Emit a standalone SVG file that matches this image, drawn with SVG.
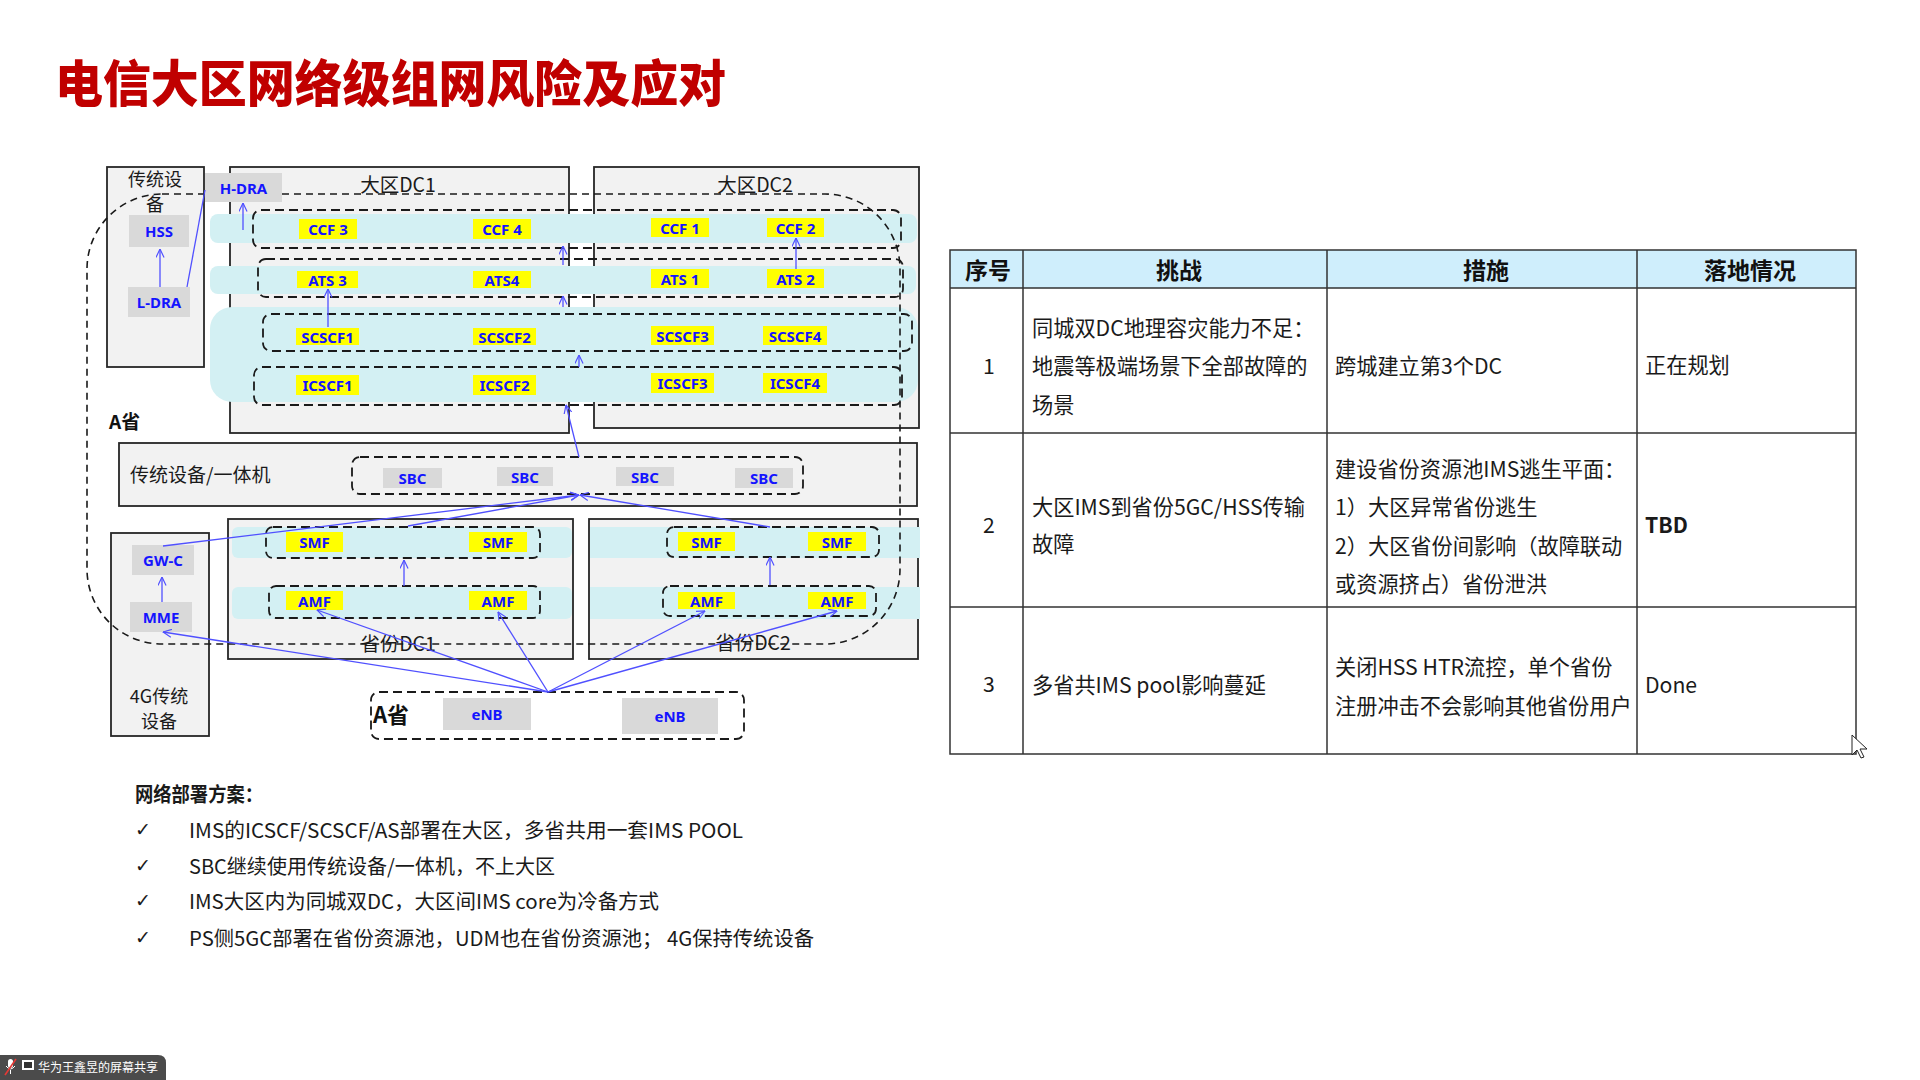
<svg xmlns="http://www.w3.org/2000/svg" width="1920" height="1080" viewBox="0 0 1920 1080">
  <style>
    .box{fill:#f2f2f2;stroke:#262626;stroke-width:1.8}
    .band{fill:#d3f0f3}
    .dash{fill:none;stroke:#1a1a1a;stroke-width:1.8;stroke-dasharray:9 5}
    .region{fill:none;stroke:#1a1a1a;stroke-width:1.6;stroke-dasharray:7 5}
    .ne{fill:#ffff00}
    .gray{fill:#d9d9d9}
    .lbl{font-family:"Noto Sans","Noto Sans CJK SC",sans-serif;font-weight:700;font-size:15px;fill:#1414ff;text-anchor:middle;dominant-baseline:central}
    .cap{font-family:"Noto Sans CJK SC",sans-serif;font-size:19.5px;fill:#1a1a1a;text-anchor:middle;dominant-baseline:central}
    .cap2{font-family:"Noto Sans CJK SC",sans-serif;font-size:18px;fill:#1a1a1a;text-anchor:middle;dominant-baseline:central}
    .capl{font-family:"Noto Sans CJK SC",sans-serif;font-size:19px;fill:#1a1a1a;dominant-baseline:central}
    .prov{font-family:"Noto Sans CJK SC",sans-serif;font-weight:700;fill:#111;dominant-baseline:central}
    .link{stroke:#5050ff;stroke-width:1.3;fill:none;marker-end:url(#arr)}
    .plain{stroke:#5050ff;stroke-width:1.3;fill:none}
    .grid{stroke:#333;stroke-width:1.5;fill:none}
    .th{font-family:"Noto Sans CJK SC",sans-serif;font-weight:700;font-size:23px;fill:#111;text-anchor:middle;dominant-baseline:central}
    .td{font-family:"Noto Sans CJK SC",sans-serif;font-size:21.2px;fill:#1a1a1a;dominant-baseline:central}
    .tdc{font-family:"Noto Sans CJK SC",sans-serif;font-size:21.2px;fill:#1a1a1a;text-anchor:middle;dominant-baseline:central}
    .note{font-family:"Noto Sans CJK SC",sans-serif;font-size:20px;fill:#1a1a1a;dominant-baseline:central}
  </style>
  <defs>
    <marker id="arr" viewBox="0 0 10 10" refX="9.5" refY="5" markerWidth="9" markerHeight="9" markerUnits="userSpaceOnUse" orient="auto">
      <path d="M0,0.5 L9.5,5 L0,9.5" fill="none" stroke="#5050ff" stroke-width="1.3"/>
    </marker>
  </defs>

  <rect width="1920" height="1080" fill="#ffffff"/>

  <!-- title -->
  <text x="55" y="102" font-family="'Noto Sans CJK SC',sans-serif" font-weight="900" font-size="50" fill="#c00000" textLength="671" lengthAdjust="spacingAndGlyphs">电信大区网络级组网风险及应对</text>

  <!-- containers -->
  <g id="legacy-hss">
    <rect class="box" x="107" y="167" width="97" height="200"/>
    <text class="cap2" x="155" y="178">传统设</text>
    <text class="cap2" x="155" y="203">备</text>
  </g>
  <g id="region-dc1">
    <rect class="box" x="230" y="167" width="339" height="266"/>
    <text class="cap" x="398" y="183">大区DC1</text>
  </g>
  <g id="region-dc2">
    <rect class="box" x="594" y="167" width="325" height="261"/>
    <text class="cap" x="755" y="183">大区DC2</text>
  </g>
  <g id="legacy-sbc">
    <rect class="box" x="119" y="443" width="798" height="63"/>
    <text class="capl" x="130" y="473">传统设备/一体机</text>
  </g>
  <g id="prov-dc1">
    <rect class="box" x="228" y="519" width="345" height="140"/>
  </g>
  <g id="prov-dc2">
    <rect class="box" x="589" y="519" width="329" height="140"/>
  </g>
  <g id="legacy-4g">
    <rect class="box" x="111" y="533" width="98" height="203"/>
    <text class="cap2" x="159" y="695">4G传统</text>
    <text class="cap2" x="159" y="720">设备</text>
  </g>

  <!-- layer bands -->
  <g id="bands">
    <rect class="band" x="210" y="214" width="707" height="29" rx="8"/>
    <rect class="band" x="210" y="266" width="706" height="28" rx="8"/>
    <rect class="band" x="210" y="307" width="708" height="95" rx="22"/>
    <rect class="band" x="232" y="527" width="340" height="31" rx="6"/>
    <rect class="band" x="232" y="587" width="340" height="32" rx="6"/>
    <rect class="band" x="590" y="527" width="330" height="31"/>
    <rect class="band" x="590" y="587" width="330" height="32"/>
  </g>

  <!-- pools -->
  <g id="pool-ccf"><rect class="dash" x="253" y="210" width="648" height="38" rx="8"/></g>
  <g id="pool-ats"><rect class="dash" x="258" y="259" width="645" height="38" rx="8"/></g>
  <g id="pool-scscf"><rect class="dash" x="263" y="314" width="649" height="37" rx="8"/></g>
  <g id="pool-icscf"><rect class="dash" x="254" y="367" width="648" height="38" rx="8"/></g>
  <g id="pool-sbc"><rect class="dash" x="352" y="457" width="451" height="37" rx="8"/></g>
  <g id="pool-smf1"><rect class="dash" x="266" y="527" width="274" height="31" rx="7"/></g>
  <g id="pool-amf1"><rect class="dash" x="269" y="586" width="271" height="32" rx="7"/></g>
  <g id="pool-smf2"><rect class="dash" x="667" y="527" width="212" height="30" rx="7"/></g>
  <g id="pool-amf2"><rect class="dash" x="663" y="586" width="213" height="30" rx="7"/></g>
  <g id="ran">
    <rect class="dash" x="371" y="692" width="373" height="47" rx="8"/>
    <text class="prov" x="373" y="713" font-size="22">A省</text>
  </g>

  <!-- province A boundary -->
  <g id="province-a">
    <rect class="region" x="87" y="194" width="813" height="450" rx="75"/>
    <text class="prov" x="109" y="420" font-size="19">A省</text>
  </g>

  <text class="cap" x="398" y="642">省份DC1</text>
  <text class="cap" x="753" y="641">省份DC2</text>

  <!-- network elements -->
  <g id="h-dra"><rect class="gray" x="205" y="173" width="77" height="29"/><text class="lbl" x="243.5" y="188">H-DRA</text></g>
  <g id="hss"><rect class="gray" x="129" y="215" width="60" height="32"/><text class="lbl" x="159" y="231">HSS</text></g>
  <g id="l-dra"><rect class="gray" x="128" y="287" width="62" height="30"/><text class="lbl" x="159" y="302">L-DRA</text></g>

  <g id="ccf3"><rect class="ne" x="299" y="219" width="58" height="20"/><text class="lbl" x="328" y="229">CCF 3</text></g>
  <g id="ccf4"><rect class="ne" x="473" y="219" width="58" height="20"/><text class="lbl" x="502" y="229">CCF 4</text></g>
  <g id="ccf1"><rect class="ne" x="651" y="218" width="58" height="19"/><text class="lbl" x="680" y="228">CCF 1</text></g>
  <g id="ccf2"><rect class="ne" x="767" y="218" width="57" height="19"/><text class="lbl" x="795.5" y="228">CCF 2</text></g>

  <g id="ats3"><rect class="ne" x="297" y="271" width="61" height="17"/><text class="lbl" x="327.5" y="279.5">ATS 3</text></g>
  <g id="ats4"><rect class="ne" x="473" y="271" width="58" height="17"/><text class="lbl" x="502" y="279.5">ATS4</text></g>
  <g id="ats1"><rect class="ne" x="651" y="269" width="58" height="19"/><text class="lbl" x="680" y="278.5">ATS 1</text></g>
  <g id="ats2"><rect class="ne" x="767" y="269" width="57" height="19"/><text class="lbl" x="795.5" y="278.5">ATS 2</text></g>

  <g id="scscf1"><rect class="ne" x="296" y="328" width="63" height="17"/><text class="lbl" x="327.5" y="336.5">SCSCF1</text></g>
  <g id="scscf2"><rect class="ne" x="473" y="328" width="63" height="17"/><text class="lbl" x="504.5" y="336.5">SCSCF2</text></g>
  <g id="scscf3"><rect class="ne" x="651" y="326" width="63" height="19"/><text class="lbl" x="682.5" y="335.5">SCSCF3</text></g>
  <g id="scscf4"><rect class="ne" x="763" y="326" width="64" height="19"/><text class="lbl" x="795" y="335.5">SCSCF4</text></g>

  <g id="icscf1"><rect class="ne" x="296" y="375" width="63" height="20"/><text class="lbl" x="327.5" y="385">ICSCF1</text></g>
  <g id="icscf2"><rect class="ne" x="473" y="375" width="63" height="20"/><text class="lbl" x="504.5" y="385">ICSCF2</text></g>
  <g id="icscf3"><rect class="ne" x="651" y="373" width="63" height="20"/><text class="lbl" x="682.5" y="383">ICSCF3</text></g>
  <g id="icscf4"><rect class="ne" x="763" y="373" width="64" height="20"/><text class="lbl" x="795" y="383">ICSCF4</text></g>

  <g id="sbc1"><rect class="gray" x="383" y="468" width="59" height="20"/><text class="lbl" x="412.5" y="478">SBC</text></g>
  <g id="sbc2"><rect class="gray" x="497" y="467" width="56" height="19"/><text class="lbl" x="525" y="476.5">SBC</text></g>
  <g id="sbc3"><rect class="gray" x="616" y="467" width="58" height="19"/><text class="lbl" x="645" y="476.5">SBC</text></g>
  <g id="sbc4"><rect class="gray" x="735" y="468" width="58" height="20"/><text class="lbl" x="764" y="478">SBC</text></g>

  <g id="smf1"><rect class="ne" x="286" y="532" width="57" height="20"/><text class="lbl" x="314.5" y="542">SMF</text></g>
  <g id="smf2"><rect class="ne" x="469" y="532" width="58" height="20"/><text class="lbl" x="498" y="542">SMF</text></g>
  <g id="smf3"><rect class="ne" x="678" y="532" width="57" height="19"/><text class="lbl" x="706.5" y="541.5">SMF</text></g>
  <g id="smf4"><rect class="ne" x="808" y="532" width="58" height="19"/><text class="lbl" x="837" y="541.5">SMF</text></g>

  <g id="amf1"><rect class="ne" x="286" y="591" width="57" height="19"/><text class="lbl" x="314.5" y="600.5">AMF</text></g>
  <g id="amf2"><rect class="ne" x="469" y="591" width="58" height="19"/><text class="lbl" x="498" y="600.5">AMF</text></g>
  <g id="amf3"><rect class="ne" x="678" y="592" width="57" height="17"/><text class="lbl" x="706.5" y="600.5">AMF</text></g>
  <g id="amf4"><rect class="ne" x="808" y="592" width="58" height="17"/><text class="lbl" x="837" y="600.5">AMF</text></g>

  <g id="gw-c"><rect class="gray" x="132" y="545" width="62" height="30"/><text class="lbl" x="163" y="560">GW-C</text></g>
  <g id="mme"><rect class="gray" x="130" y="602" width="62" height="30"/><text class="lbl" x="161" y="617">MME</text></g>

  <g id="enb1"><rect class="gray" x="443" y="698" width="88" height="32"/><text class="lbl" x="487" y="714">eNB</text></g>
  <g id="enb2"><rect class="gray" x="622" y="698" width="96" height="36"/><text class="lbl" x="670" y="716">eNB</text></g>

  <!-- signalling paths -->
  <g id="connectors">
    <line class="plain" x1="187" y1="287" x2="205" y2="190"/>
    <line class="link" x1="160" y1="287" x2="160" y2="249"/>
    <line class="link" x1="243" y1="230" x2="243" y2="203"/>
    <line class="link" x1="328" y1="327" x2="328" y2="289"/>
    <line class="link" x1="796" y1="269" x2="796" y2="238"/>
    <line class="link" x1="563" y1="265" x2="563" y2="246"/>
    <line class="link" x1="563" y1="307" x2="563" y2="296"/>
    <line class="link" x1="579" y1="367" x2="579" y2="355"/>
    <line class="link" x1="579" y1="457" x2="566" y2="405"/>
    <line class="link" x1="163" y1="546" x2="579" y2="495"/>
    <line class="link" x1="408" y1="526" x2="579" y2="495"/>
    <line class="link" x1="770" y1="527" x2="580" y2="495"/>
    <line class="link" x1="404" y1="586" x2="404" y2="560"/>
    <line class="link" x1="770" y1="585" x2="770" y2="557"/>
    <line class="link" x1="162" y1="602" x2="162" y2="577"/>
    <line class="link" x1="548" y1="692" x2="163" y2="632"/>
    <line class="link" x1="548" y1="692" x2="317" y2="610"/>
    <line class="link" x1="548" y1="692" x2="498" y2="612"/>
    <line class="link" x1="548" y1="692" x2="705" y2="611"/>
    <line class="link" x1="548" y1="692" x2="837" y2="611"/>
  </g>

  <!-- risk table -->
  <g id="risk-table">
    <rect x="950" y="250" width="906" height="504" fill="#ffffff"/>
    <rect x="950" y="250" width="906" height="38" fill="#cfeefc"/>
    <path class="grid" d="M950,250H1856V754H950Z M950,288H1856 M950,433H1856 M950,607H1856 M1023,250V754 M1327,250V754 M1637,250V754"/>
    <text class="th" x="988" y="269">序号</text>
    <text class="th" x="1179" y="269">挑战</text>
    <text class="th" x="1486" y="269">措施</text>
    <text class="th" x="1750" y="269">落地情况</text>

    <text class="tdc" x="989" y="364">1</text>
    <text class="td" x="1032" y="326">同城双DC地理容灾能力不足：</text>
    <text class="td" x="1032" y="364">地震等极端场景下全部故障的</text>
    <text class="td" x="1032" y="403">场景</text>
    <text class="td" x="1335" y="364">跨城建立第3个DC</text>
    <text class="td" x="1645" y="363">正在规划</text>

    <text class="tdc" x="989" y="523">2</text>
    <text class="td" x="1032" y="505">大区IMS到省份5GC/HSS传输</text>
    <text class="td" x="1032" y="542">故障</text>
    <text class="td" x="1335" y="467">建设省份资源池IMS逃生平面：</text>
    <text class="td" x="1335" y="505">1）大区异常省份逃生</text>
    <text class="td" x="1335" y="544">2）大区省份间影响（故障联动</text>
    <text class="td" x="1335" y="582">或资源挤占）省份泄洪</text>
    <text class="td" x="1645" y="523" font-weight="700">TBD</text>

    <text class="tdc" x="989" y="682">3</text>
    <text class="td" x="1032" y="683">多省共IMS pool影响蔓延</text>
    <text class="td" x="1335" y="665">关闭HSS HTR流控，单个省份</text>
    <text class="td" x="1335" y="704">注册冲击不会影响其他省份用户</text>
    <text class="td" x="1645" y="683">Done</text>
  </g>

  <!-- deployment notes -->
  <g id="notes">
    <text class="note" x="135" y="793" font-size="19" font-weight="700" textLength="128" lengthAdjust="spacingAndGlyphs">网络部署方案：</text>
    <g font-family="'DejaVu Sans',sans-serif" font-size="19" fill="#1a1a1a">
      <text x="135" y="836">✓</text>
      <text x="135" y="872">✓</text>
      <text x="135" y="907">✓</text>
      <text x="135" y="944">✓</text>
    </g>
    <text class="note" x="189" y="829" textLength="554" lengthAdjust="spacingAndGlyphs">IMS的ICSCF/SCSCF/AS部署在大区，多省共用一套IMS POOL</text>
    <text class="note" x="189" y="865" textLength="366" lengthAdjust="spacingAndGlyphs">SBC继续使用传统设备/一体机，不上大区</text>
    <text class="note" x="189" y="900" textLength="470" lengthAdjust="spacingAndGlyphs">IMS大区内为同城双DC，大区间IMS core为冷备方式</text>
    <text class="note" x="189" y="937" textLength="625" lengthAdjust="spacingAndGlyphs">PS侧5GC部署在省份资源池，UDM也在省份资源池； 4G保持传统设备</text>
  </g>

  <!-- pointer -->
  <path d="M1852,735 L1852,755 L1857,750 L1861,758 L1864,757 L1860,749 L1867,749 Z" fill="#ffffff" stroke="#222" stroke-width="1"/>

  <!-- screen share badge -->
  <g id="share-badge">
    <path d="M0,1055 H158 Q166,1055 166,1063 V1080 H0 Z" fill="#4b4b4b"/>
    <rect x="8" y="1059" width="5" height="9" rx="2.5" fill="#ffffff"/>
    <path d="M6,1066 Q10.5,1072 15,1066 M10.5,1070 V1074" stroke="#ffffff" stroke-width="1" fill="none"/>
    <line x1="5" y1="1075" x2="16" y2="1059" stroke="#e53935" stroke-width="1.6"/>
    <rect x="22" y="1060" width="12" height="10" fill="#ffffff"/>
    <rect x="24" y="1062" width="8" height="6" fill="#333"/>
    <text x="38" y="1072" font-family="'Noto Sans CJK SC',sans-serif" font-size="12" fill="#ffffff">华为王鑫昱的屏幕共享</text>
  </g>
</svg>
